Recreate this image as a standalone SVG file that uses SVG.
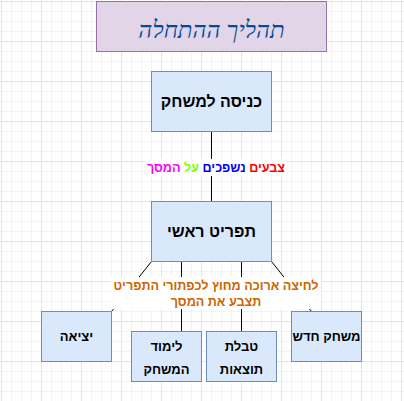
<svg xmlns="http://www.w3.org/2000/svg" width="404" height="401" viewBox="0 0 404 401">
  <style>
    .box { fill: #dae8fc; stroke: #6c8ebf; stroke-width: 1; }
    .title { fill: #e1d5e7; stroke: #9673a6; stroke-width: 1; }
    .edge { stroke: #000000; stroke-width: 1; fill: none; }
    .lbl { font-family: "Liberation Sans", Arial, sans-serif; font-weight: bold; text-anchor: middle; direction: rtl; }
    .big { font-size: 16px; fill: #000000; }
    .small { font-size: 13px; fill: #000000; }
    .elabel { font-size: 12.6px; }
    .lbg { fill: #ffffff; }
  </style>
  <defs>
    <pattern id="grid" x="1" y="1" width="40" height="40" patternUnits="userSpaceOnUse">
      <path d="M10.5 0V40M20.5 0V40M30.5 0V40M0 10.5H40M0 20.5H40M0 30.5H40" stroke="#f3f3f3" stroke-width="1" fill="none"/>
      <path d="M0.5 0V40M0 0.5H40" stroke="#e4e4e4" stroke-width="1" fill="none"/>
    </pattern>
  </defs>
  <rect x="0" y="0" width="404" height="401" fill="#ffffff"/>
  <rect x="0" y="0" width="404" height="401" fill="url(#grid)"/>

  <g id="connectors">
    <line class="edge" x1="211.5" y1="131.5" x2="211.5" y2="201.5"/>
    <line class="edge" x1="151.5" y1="261.5" x2="111.5" y2="311.5"/>
    <line class="edge" x1="181.5" y1="261.5" x2="181.5" y2="331.5"/>
    <line class="edge" x1="241.5" y1="261.5" x2="241.5" y2="331.5"/>
    <line class="edge" x1="271.5" y1="261.5" x2="311.5" y2="311.5"/>
    <g id="label-colors">
      <rect class="lbg" x="145" y="159" width="143" height="17"/>
      <text class="lbl elabel" x="216" y="172"><tspan fill="#ff0000">צבעים</tspan> <tspan fill="#0000ff">נשפכים</tspan> <tspan fill="#80ff00">על</tspan> <tspan fill="#ff00ff">המסך</tspan></text>
    </g>
    <g id="label-longpress">
      <rect class="lbg" x="111" y="277" width="210" height="32"/>
      <text class="lbl elabel" fill="#cc6600" x="216" y="289.5">לחיצה ארוכה מחוץ לכפתורי התפריט</text>
      <text class="lbl elabel" fill="#cc6600" x="216" y="306">תצבע את המסך</text>
    </g>
  </g>

  <g id="title">
    <rect class="title" x="96.5" y="1.5" width="230" height="50"/>
    <text x="211.5" y="38" font-family="Liberation Serif, Times New Roman, serif" font-style="italic" font-size="24" fill="#004c99" text-anchor="middle" direction="rtl">תהליך ההתחלה</text>
  </g>

  <g id="node-enter">
    <rect class="box" x="151.5" y="71.5" width="120" height="60"/>
    <text class="lbl big" x="211.5" y="107">כניסה למשחק</text>
  </g>

  <g id="node-menu">
    <rect class="box" x="151.5" y="201.5" width="120" height="60"/>
    <text class="lbl big" x="211.5" y="237">תפריט ראשי</text>
  </g>

  <g id="node-exit">
    <rect class="box" x="41.5" y="311.5" width="70" height="50"/>
    <text class="lbl small" x="76.5" y="341">יציאה</text>
  </g>

  <g id="node-learn">
    <rect class="box" x="131.5" y="331.5" width="70" height="50"/>
    <text class="lbl small" x="166.5" y="351">לימוד</text>
    <text class="lbl small" x="166.5" y="373.5">המשחק</text>
  </g>

  <g id="node-scores">
    <rect class="box" x="206.5" y="331.5" width="70" height="50"/>
    <text class="lbl small" x="241.5" y="351">טבלת</text>
    <text class="lbl small" x="241.5" y="373.5">תוצאות</text>
  </g>

  <g id="node-new">
    <rect class="box" x="291.5" y="311.5" width="70" height="50"/>
    <text class="lbl small" x="326.5" y="341">משחק חדש</text>
  </g>
</svg>
